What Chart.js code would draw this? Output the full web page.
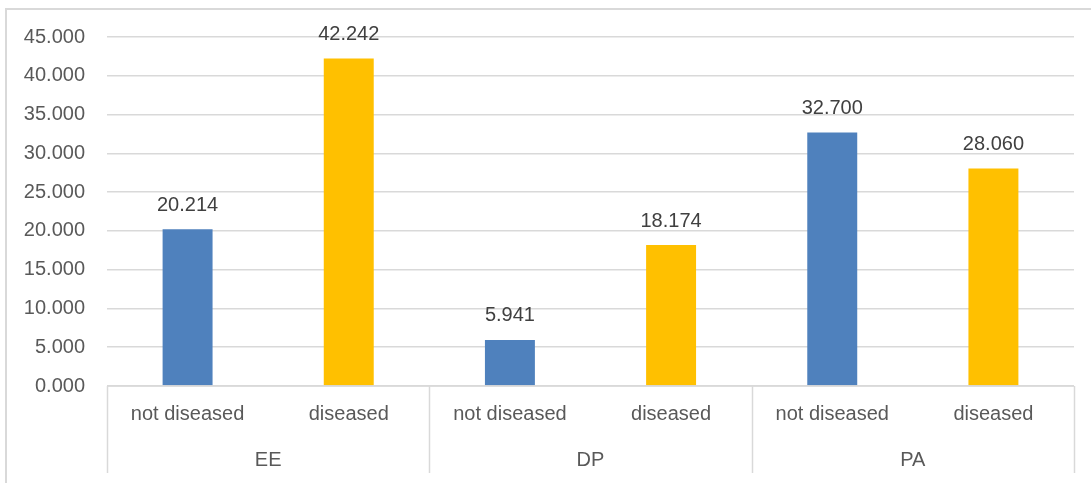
<!DOCTYPE html>
<html>
<head>
<meta charset="utf-8">
<script src="https://cdn.jsdelivr.net/npm/chart.js@4"></script>
<style>
  html, body { margin: 0; padding: 0; background: #fff; }
</style>
</head>
<body>
<canvas id="diseaseChart" width="1091" height="483"></canvas>
<script>
const categories = ['not diseased', 'diseased', 'not diseased', 'diseased', 'not diseased', 'diseased'];
const groups = ['EE', 'DP', 'PA'];
const values = [20.214, 42.242, 5.941, 18.174, 32.700, 28.060];
const barColors = ['#4f81bd', '#ffc000', '#4f81bd', '#ffc000', '#4f81bd', '#ffc000'];

const FONT = "'Liberation Sans', Arial, sans-serif";
const gridColor = '#d9d9d9';

// chart frame (Excel style, only top and left edges visible)
const framePlugin = {
    id: 'frame',
    beforeDraw(chart) {
        const c = chart.ctx;
        c.save();
        c.strokeStyle = gridColor;
        c.lineWidth = 2;
        c.beginPath();
        c.moveTo(6, chart.height);
        c.lineTo(6, 9);
        c.lineTo(chart.width, 9);
        c.stroke();
        c.restore();
    }
};

// group separators under the axis
const groupPlugin = {
    id: 'groupLines',
    afterDraw(chart) {
        const x = chart.scales.x;
        const area = chart.chartArea;
        const c = chart.ctx;
        c.save();
        c.strokeStyle = gridColor;
        c.lineWidth = 1.5;
        const bounds = [area.left];
        for (let g = 1; g < groups.length; g++) {
            bounds.push((x.getPixelForValue(2 * g - 1) + x.getPixelForValue(2 * g)) / 2);
        }
        bounds.push(area.right);
        c.beginPath();
        c.moveTo(area.left, area.bottom);
        c.lineTo(area.right, area.bottom);
        bounds.forEach(b => {
            c.moveTo(Math.round(b) + 0.5, area.bottom);
            c.lineTo(Math.round(b) + 0.5, area.bottom + 87);
        });
        c.stroke();
        c.restore();
    }
};

const valueLabels = {
    id: 'valueLabels',
    afterDatasetsDraw(chart) {
        const c = chart.ctx;
        const meta = chart.getDatasetMeta(0);
        c.save();
        c.font = '20px ' + FONT;
        c.fillStyle = '#404040';
        c.textAlign = 'center';
        c.textBaseline = 'middle';
        meta.data.forEach((bar, i) => {
            c.fillText(values[i].toFixed(3), bar.x, bar.y - 24);
        });
        c.restore();
    }
};

new Chart(document.getElementById('diseaseChart'), {
    type: 'bar',
    data: {
        labels: categories,
        datasets: [{
            data: values,
            backgroundColor: barColors,
            borderWidth: 0,
            categoryPercentage: 1,
            barPercentage: 0.31
        }]
    },
    options: {
        responsive: false,
        animation: false,
        layout: { padding: { top: 37, right: 17, bottom: 11, left: 0 } },
        plugins: {
            legend: { display: false },
            tooltip: { enabled: false }
        },
        scales: {
            y: {
                min: 0,
                max: 45,
                afterFit(scale) { scale.width = 107; },
                ticks: {
                    stepSize: 5,
                    padding: 22,
                    color: '#595959',
                    font: { family: FONT, size: 20 },
                    callback: v => v.toFixed(3)
                },
                grid: { color: gridColor, lineWidth: 1.5, drawTicks: false },
                border: { display: false }
            },
            x: {
                afterFit(scale) { scale.height = 40; },
                ticks: {
                    padding: 16,
                    maxRotation: 0,
                    autoSkip: false,
                    color: '#595959',
                    font: { family: FONT, size: 20 }
                },
                grid: { display: false, drawTicks: false },
                border: { display: false }
            },
            x2: {
                type: 'category',
                position: 'bottom',
                labels: groups,
                offset: true,
                afterFit(scale) { scale.height = 46; },
                ticks: {
                    padding: 22,
                    maxRotation: 0,
                    color: '#595959',
                    font: { family: FONT, size: 20 }
                },
                grid: { display: false, drawTicks: false },
                border: { display: false }
            }
        }
    },
    plugins: [framePlugin, groupPlugin, valueLabels]
});
</script>
</body>
</html>
